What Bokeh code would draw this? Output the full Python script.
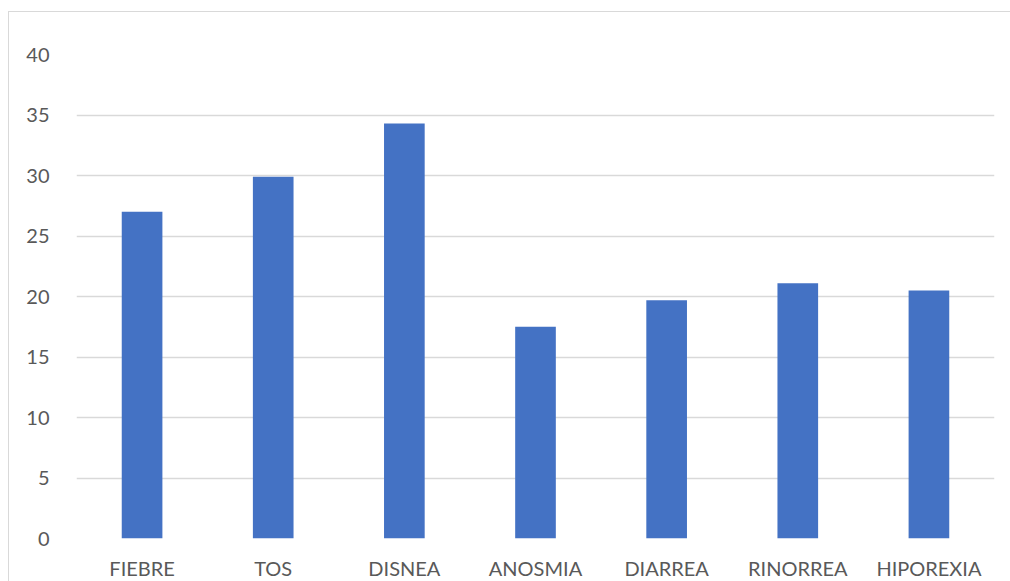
from bokeh.plotting import figure
from bokeh.models import ColumnDataSource, FixedTicker, Range1d
from bokeh.embed import file_html
from bokeh.resources import INLINE

sintomas = ["FIEBRE", "TOS", "DISNEA", "ANOSMIA", "DIARREA", "RINORREA", "HIPOREXIA"]
valores = [27.0, 29.9, 34.3, 17.5, 19.7, 21.1, 20.5]
y_ticks = [0, 5, 10, 15, 20, 25, 30, 35, 40]

FONT = "Lato"
TEXT_COLOR = "#595959"
GRID_COLOR = "#d9d9d9"

source = ColumnDataSource(data=dict(sintoma=sintomas, valor=valores))

p = figure(
    x_range=sintomas,
    y_range=Range1d(0, 40),
    width=1002,
    height=570,
    output_backend="svg",
    toolbar_location=None,
    min_border_left=67,
    min_border_right=17,
    min_border_top=42,
    min_border_bottom=38,
)
p.margin = (11, 0, 0, 8)
p.styles = {"border-top": f"1px solid {GRID_COLOR}", "border-left": f"1px solid {GRID_COLOR}"}

p.vbar(x="sintoma", top="valor", width=0.31, source=source,
       fill_color="#4472c4", line_color=None)

p.outline_line_color = None
p.xgrid.grid_line_color = None
p.ygrid.grid_line_color = GRID_COLOR
p.ygrid.grid_line_width = 1.5
p.yaxis.ticker = FixedTicker(ticks=y_ticks)
p.x_range.range_padding = 0

for ax in (p.xaxis[0], p.yaxis[0]):
    ax.axis_line_color = None
    ax.major_tick_line_color = None
    ax.minor_tick_line_color = None
    ax.major_label_text_font = FONT
    ax.major_label_text_font_size = "20px"
    ax.major_label_text_color = TEXT_COLOR

p.xaxis.major_label_standoff = 11
p.yaxis.major_label_standoff = 21

open("out.html", "w").write(file_html(p, INLINE))
